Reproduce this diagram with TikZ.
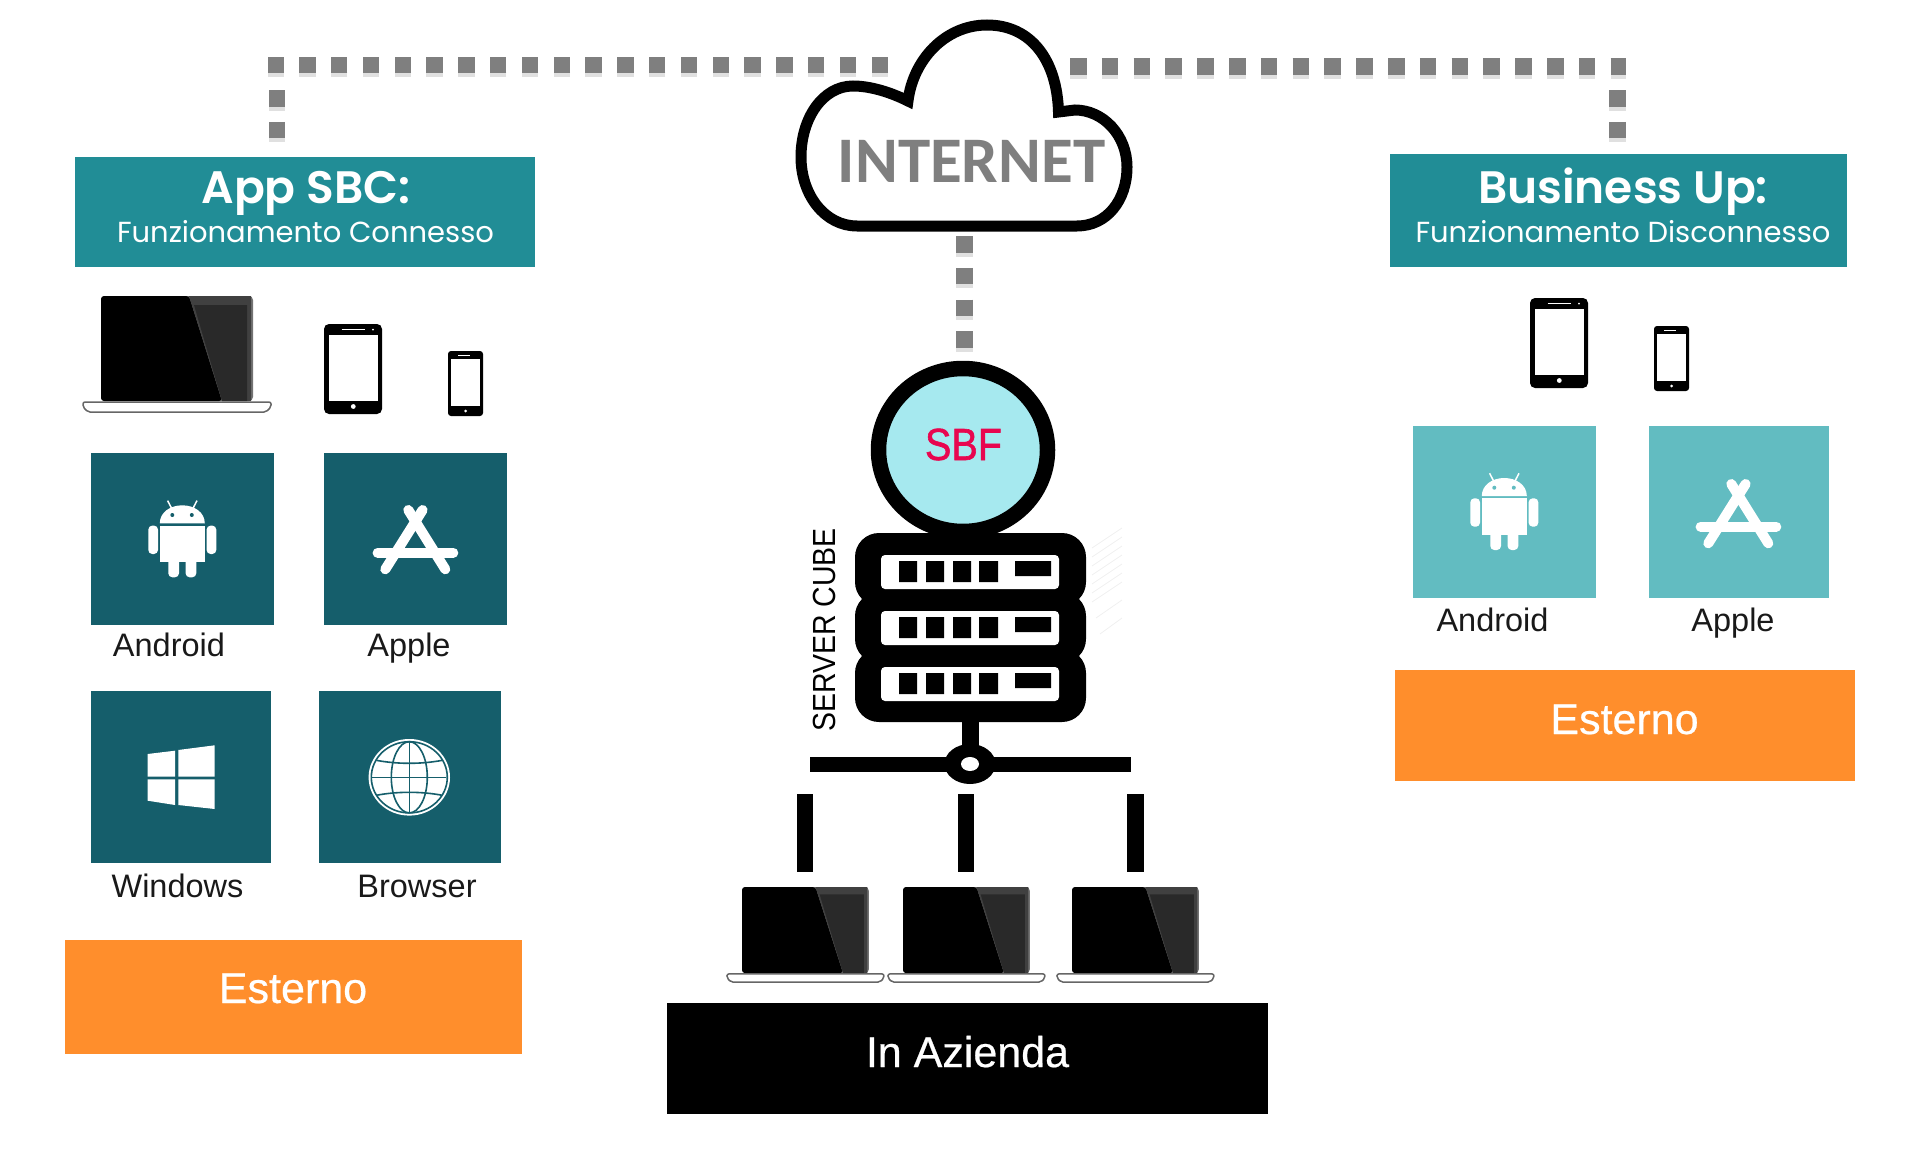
\documentclass[tikz,border=0pt]{standalone}
\usepackage{fontspec}
\usepackage{tikz}
\setmainfont{Liberation Sans}
\newfontfamily\medfont[FakeBold=0.5]{Liberation Sans}
\newfontfamily\heavyfont[FakeBold=1.4]{Liberation Sans}
\newfontfamily\popfont[BoldFont={Poppins SemiBold}]{Poppins}
\newfontfamily\carlitofont{Carlito}

\definecolor{headteal}{HTML}{218D96}
\definecolor{tiledark}{HTML}{155E6B}
\definecolor{tilelight}{HTML}{62BCC1}
\definecolor{boxorange}{HTML}{FF8E2C}
\definecolor{dotgray}{HTML}{7F7F7F}
\definecolor{sbfcyan}{HTML}{A6E9EF}
\definecolor{sbfred}{HTML}{E8064F}

\tikzset{
	box/.style={inner sep=0pt, minimum width=#1},
	headbox/.style={fill=headteal},
	orangebox/.style={fill=boxorange},
	maintitle/.style={anchor=base, text=white, font=\popfont\bfseries\fontsize{45.5}{50}\selectfont},
	subtitle/.style={anchor=base, text=white, font=\popfont\fontsize{29}{32}\selectfont},
	tilelabel/.style={anchor=base, text=black!90, font=\fontsize{32.5}{36}\selectfont},
	boxlabel/.style={anchor=base, text=white, font=\medfont\fontsize{43}{48}\selectfont},
	dotline/.style={dotgray, line width=16.5pt, dash pattern=on 16.5pt off 15.3pt,
		preaction={draw=black!12, line width=16.5pt, dash pattern=on 16.5pt off 15.3pt, transform canvas={yshift=-4pt}}},
	linkbar/.style={line width=16.5pt},
}

\newcommand{\androidicon}[3]{\begin{scope}[shift={(#1,#2)}]
	\fill[white] (-22.5,-20) .. controls (-22.5,-31) and (-12,-38) .. (0,-38) .. controls (12,-38) and (22.5,-31) .. (22.5,-20) -- cycle;
	\fill[white] (-22.5,-17.7) rectangle (22.5,19);
	\fill[white,rounded corners=4pt] (-34,-17.7) rectangle (-24.3,10.7);
	\fill[white,rounded corners=4pt] (24.3,-17.7) rectangle (34,10.7);
	\fill[white,rounded corners=4pt] (-14,10) rectangle (-3.3,34);
	\fill[white,rounded corners=4pt] (3.3,10) rectangle (14,34);
	\draw[white,line width=1.5pt] (-14.7,-42.7) -- (-10.7,-35);
	\draw[white,line width=1.5pt] (14.7,-42.7) -- (10.7,-35);
	\fill[#3] (-10,-28.3) circle (2);
	\fill[#3] (9.5,-28.3) circle (2);
\end{scope}}

\newcommand{\appicon}[2]{\begin{scope}[shift={(#1,#2)}, white, line width=10pt, line cap=round]
	\draw (7.3,-30) -- (-30,29.3);
	\draw (-7,-30) -- (30,29.3);
	\draw (-37.7,12.7) -- (38,12.7);
\end{scope}}

\newcommand{\tabletshape}[2]{\begin{scope}[shift={(#1,#2)}]
	\fill[black,rounded corners=5pt] (0,0) rectangle (58,90);
	\fill[white] (5,11) rectangle (54,77);
	\draw[white,line width=1.2pt] (17.7,5.6) -- (41,5.6);
	\fill[white] (49,5.6) circle (1);
	\fill[white] (29.3,82.5) circle (2.4);
\end{scope}}

\newcommand{\phoneshape}[2]{\begin{scope}[shift={(#1,#2)}]
	\fill[black,rounded corners=3pt] (0,0) rectangle (35,65);
	\fill[white] (3,8) rectangle (31.5,55);
	\draw[white,line width=.8pt] (10,4) -- (22,4);
	\fill[white] (17.5,60) circle (1.5);
\end{scope}}

% lid at (#1,#2) on the top left, #3 scales it
\newcommand{\laptopshape}[3]{\begin{scope}[shift={(#1,#2)}, #3]
	\fill[black!55,rounded corners=4pt] (0,0) -- (152,0) -- (152,105) -- (0,105) -- cycle;
	\fill[black,rounded corners=3pt] (0,0) -- (88,0) -- (121,105) -- (0,105) -- cycle;
	\fill[black!75] (88,0) -- (150,0) -- (150,105) -- (121,105) -- cycle;
	\fill[black!84] (93,9) -- (146,9) -- (146,105) -- (121,105) -- cycle;
	\fill[white,draw=black!60,line width=1.5pt,rounded corners=2pt] (-18,106) -- (170,106) -- (170,111) -- (165,116) -- (-13,116) -- (-18,111) -- cycle;
\end{scope}}

\begin{document}
\begin{tikzpicture}[x=1pt, y=-1pt]
\useasboundingbox (0, 0) rectangle (1920, 1159);

\coordinate (topLa) at (888, 65); \coordinate (topLb) at (268, 65);
\coordinate (downLa) at (277, 90); \coordinate (downLb) at (277, 140);
\coordinate (topRa) at (1070, 66.5); \coordinate (topRb) at (1626, 66.5);
\coordinate (downRa) at (1617.5, 90); \coordinate (downRb) at (1617.5, 140);
\coordinate (cloudS) at (964.5, 236); \coordinate (cubeN) at (964.5, 348);
\draw[dotline] (topLa) -- (topLb) ; % cloud to app
\draw[dotline] (downLa) -- (downLb) ; % app drop
\draw[dotline] (topRa) -- (topRb) ; % cloud to business
\draw[dotline] (downRa) -- (downRb) ; % business drop
\draw[dotline] (cloudS) -- (cubeN) ; % cloud to sbf

% cloud
\draw[line width=11pt, fill=white, line join=miter] (857, 226) -- (1077, 226) .. controls (1107, 226) and (1127, 200) .. (1127, 167) .. controls (1127, 135) and (1103, 110) .. (1075, 110) -- (1058.5, 112) .. controls (1057, 60) and (1031, 25) .. (987, 25) .. controls (945, 25) and (913, 60) .. (908, 101) .. controls (890, 92) and (870, 86) .. (853, 86) .. controls (823, 86) and (801, 118) .. (801, 157) .. controls (801, 195) and (825, 226) .. (857, 226) -- cycle ;
\draw (971.5, 182) node[anchor=base, text=dotgray, font=\carlitofont\bfseries\fontsize{65}{70}\selectfont] (internet) {INTERNET};

% left column
\draw (305, 212) node[box=460pt, minimum height=110pt, headbox] (appbox) {};
\draw (306, 203) node[maintitle] (apptitle) {App SBC:};
\draw (305.5, 242) node[subtitle] (appsub) {Funzionamento Connesso};
\laptopshape{101}{296}{scale=1}
\tabletshape{324}{324}
\phoneshape{448}{351}
\fill[tiledark] (91, 453) rectangle (274, 625) ; % android
\fill[tiledark] (324, 453) rectangle (507, 625) ; % apple
\fill[tiledark] (91, 691) rectangle (271, 863) ; % windows
\fill[tiledark] (319, 691) rectangle (501, 863) ; % browser
\androidicon{182.3}{543.3}{tiledark}
\appicon{415.3}{540}
\fill[white] (147.7, 754) -- (175, 750.7) -- (175, 776.7) -- (147.7, 776.7) -- cycle ;
\fill[white] (178.3, 750) -- (214.7, 745.3) -- (214.7, 776.7) -- (178.3, 776.7) -- cycle ;
\fill[white] (147.7, 779.3) -- (175, 779.3) -- (175, 805) -- (147.7, 800.7) -- cycle ;
\fill[white] (178.3, 779.3) -- (214.7, 779.3) -- (214.7, 809) -- (178.3, 805) -- cycle ;
\begin{scope}[shift={(409.3, 777.3)}, tiledark, line width=1.6pt]
\fill[white] (0, 0) ellipse [x radius=40.7, y radius=38.3];
\draw (0, 0) ellipse [x radius=38, y radius=35.6];
\draw (0, 0) ellipse [x radius=18, y radius=35.6];
\draw (0, -35.6) -- (0, 35.6) ;
\draw (-37, 0) -- (37, 0) ;
\draw (-33, -17) .. controls (-12, -13) and (12, -13) .. (33, -17) ;
\draw (-33, 18) .. controls (-12, 14) and (12, 14) .. (33, 18) ;
\end{scope}
\draw (169, 656) node[tilelabel] (androidL) {Android};
\draw (409, 656) node[tilelabel] (appleL) {Apple};
\draw (177.5, 897) node[tilelabel] (windowsL) {Windows};
\draw (417, 897) node[tilelabel] (browserL) {Browser};
\draw (293.5, 997) node[box=457pt, minimum height=114pt, orangebox] (esternoLbox) {};
\draw (293, 1003) node[boxlabel] (esternoL) {Esterno};

% right column
\draw (1618.5, 210.5) node[box=457pt, minimum height=113pt, headbox] (busbox) {};
\draw (1623, 203) node[maintitle] (bustitle) {Business Up:};
\draw (1623, 242) node[subtitle] (bussub) {Funzionamento Disconnesso};
\tabletshape{1530}{298}
\phoneshape{1654}{326}
\fill[tilelight] (1413, 426) rectangle (1596, 598) ; % android
\fill[tilelight] (1649, 426) rectangle (1829, 598) ; % apple
\androidicon{1504.3}{516}{tilelight}
\appicon{1738.3}{514}
\draw (1492.5, 631) node[tilelabel] (androidR) {Android};
\draw (1733, 631) node[tilelabel] (appleR) {Apple};
\draw (1625, 725.5) node[box=460pt, minimum height=111pt, orangebox] (esternoRbox) {};
\draw (1624.5, 734) node[boxlabel] (esternoR) {Esterno};

% server
\draw[draw=black!6, line width=.8pt] (1092, 548) -- (1122, 528) (1092, 557) -- (1122, 537) (1092, 566) -- (1122, 546) (1092, 575) -- (1122, 555) (1092, 584) -- (1122, 564) (1092, 593) -- (1122, 573) (1092, 602) -- (1122, 582) (1096, 618) -- (1122, 600) (1100, 634) -- (1122, 618) ;
\fill[rounded corners=24pt] (855, 533) rectangle (1086, 606) ;
\fill[rounded corners=24pt] (855, 592) rectangle (1086, 663) ;
\fill[rounded corners=24pt] (855, 649) rectangle (1086, 722) ;
\draw[line width=15.5pt, fill=sbfcyan] (963, 450) ellipse [x radius=84.5, y radius=81.5] ;
\draw (963.5, 460) node[anchor=base, text=sbfred, font=\heavyfont\fontsize{45}{50}\selectfont] (sbf) {\scalebox{.88}[1]{SBF}};
\fill[white, rounded corners=4pt] (881, 555) rectangle (1059, 589) ;
\fill[white, rounded corners=4pt] (881, 611) rectangle (1059, 645) ;
\fill[white, rounded corners=4pt] (881, 667) rectangle (1059, 701) ;
\fill (899, 561) rectangle (917, 582) (926, 561) rectangle (944, 582) (953, 561) rectangle (971, 582) (979, 561) rectangle (998, 582) (1015, 561) rectangle (1051, 576) ;
\fill (899, 617) rectangle (917, 638) (926, 617) rectangle (944, 638) (953, 617) rectangle (971, 638) (979, 617) rectangle (998, 638) (1015, 617) rectangle (1051, 632) ;
\fill (899, 673) rectangle (917, 694) (926, 673) rectangle (944, 694) (953, 673) rectangle (971, 694) (979, 673) rectangle (998, 694) (1015, 673) rectangle (1051, 688) ;
\draw (835, 630) node[rotate=90, anchor=base, font=\fontsize{32}{36}\selectfont] (cube) {\scalebox{.89}[1]{SERVER CUBE}};

\coordinate (stemA) at (970.5, 720); \coordinate (stemB) at (970.5, 750);
\coordinate (busA) at (810, 764.5); \coordinate (busB) at (1131, 764.5);
\draw[line width=17pt] (stemA) -- (stemB) ;
\draw[line width=15pt] (busA) -- (busB) ;
\fill (970, 764) ellipse [x radius=25.5, y radius=20] ;
\fill[white] (970, 764) ellipse [x radius=9, y radius=7] ;

\coordinate (linkAa) at (805, 794); \coordinate (linkAb) at (805, 872);
\coordinate (linkBa) at (966, 794); \coordinate (linkBb) at (966, 872);
\coordinate (linkCa) at (1135.5, 794); \coordinate (linkCb) at (1135.5, 872);
\draw[linkbar] (linkAa) -- (linkAb) ;
\draw[linkbar] (linkBa) -- (linkBb) ;
\draw[linkbar] (linkCa) -- (linkCb) ;
\laptopshape{742}{887}{xscale=.835, yscale=.82}
\laptopshape{903}{887}{xscale=.835, yscale=.82}
\laptopshape{1072}{887}{xscale=.835, yscale=.82}

\draw (967.5, 1058.5) node[box=601pt, minimum height=111pt, fill=black] (aziendabox) {};
\draw (967.5, 1067) node[anchor=base, text=white, font=\medfont\fontsize{43}{48}\selectfont] (azienda) {In Azienda};
\end{tikzpicture}
\end{document}
